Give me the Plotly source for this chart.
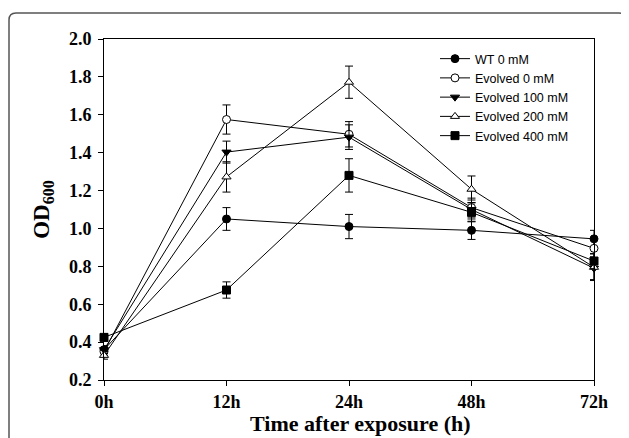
import plotly.graph_objects as go

time_labels = ["0h", "12h", "24h", "48h", "72h"]
series_names = ["WT 0 mM", "Evolved 0 mM", "Evolved 100 mM", "Evolved 200 mM", "Evolved 400 mM"]

wt_0 = [0.36, 1.05, 1.01, 0.99, 0.945]
wt_0_err = [0.02, 0.06, 0.064, 0.048, 0.045]
ev_0 = [0.35, 1.575, 1.497, 1.11, 0.895]
ev_0_err = [0.02, 0.077, 0.067, 0.05, 0.05]
ev_100 = [0.36, 1.403, 1.482, 1.10, 0.79]
ev_100_err = [0.02, 0.058, 0.065, 0.05, 0.06]
ev_200 = [0.33, 1.272, 1.772, 1.207, 0.795]
ev_200_err = [0.02, 0.08, 0.085, 0.07, 0.07]
ev_400 = [0.425, 0.675, 1.28, 1.085, 0.828]
ev_400_err = [0.02, 0.043, 0.088, 0.05, 0.04]

y_ticks = [0.2, 0.4, 0.6, 0.8, 1.0, 1.2, 1.4, 1.6, 1.8, 2.0]

values = [wt_0, ev_0, ev_100, ev_200, ev_400]
errors = [wt_0_err, ev_0_err, ev_100_err, ev_200_err, ev_400_err]
symbols = ["circle", "circle", "triangle-down", "triangle-up", "square"]
fills = ["black", "white", "black", "white", "black"]

x_pos = list(range(len(time_labels)))

fig = go.Figure()
for name, v, e, s, f in zip(series_names, values, errors, symbols, fills):
    fig.add_trace(go.Scatter(
        x=x_pos, y=v, name=name, mode="lines+markers",
        line=dict(color="black", width=1),
        marker=dict(symbol=s, size=8, color=f, line=dict(color="black", width=1)),
        error_y=dict(type="data", array=e, visible=True, color="black", thickness=1, width=4),
        cliponaxis=False,
    ))

serif = "Liberation Serif, Times New Roman, serif"
# page has an 8px body margin, so the figure is drawn 8px in from the window corner
W, H = 621, 430
L, R, T, B = 96, 35, 31, 58
pw, ph = W - L - R, H - T - B

def px(xp):
    return (xp - L) / pw

def py(yp):
    return (H - B - yp) / ph

x0, x1, y0, y1 = px(1), px(618), py(5), py(450)
rx, ry = 7 / pw, 7 / ph
path = (f"M {x0},{y1} L {x0},{y0 - ry} Q {x0},{y0} {x0 + rx},{y0} "
        f"L {x1 - rx},{y0} Q {x1},{y0} {x1},{y0 - ry} L {x1},{y1}")

fig.add_shape(type="path", path=path, xref="paper", yref="paper",
              line=dict(color="#555555", width=1.5), layer="below")

fig.add_annotation(
    text="Time after exposure (h)", xref="paper", yref="paper",
    x=px(352), y=-44 / ph, xanchor="center", yanchor="middle", showarrow=False,
    font=dict(family=serif, size=22, color="black", weight="bold"),
)

fig.update_layout(
    width=W, height=H,
    margin=dict(l=L, r=R, t=T, b=B),
    paper_bgcolor="white", plot_bgcolor="white",
    showlegend=True,
    legend=dict(x=px(427), y=py(36), xanchor="left", yanchor="top",
                font=dict(family="Liberation Sans, Arial, sans-serif", size=12.5, color="black"),
                bgcolor="rgba(0,0,0,0)", tracegroupgap=0, itemwidth=30),
    xaxis=dict(
        range=[0, 4], tickmode="array", tickvals=x_pos, ticktext=time_labels,
        showgrid=False, zeroline=False, showline=True, linecolor="black", linewidth=1,
        mirror=True, ticks="outside", ticklen=5, tickcolor="black",
        tickfont=dict(family=serif, size=18, color="black", weight="bold"),
    ),
    yaxis=dict(
        range=[0.2, 2.0], tickmode="array", tickvals=y_ticks,
        ticktext=[f"{t:.1f}" for t in y_ticks],
        showgrid=False, zeroline=False, showline=True, linecolor="black", linewidth=1,
        mirror=True, ticks="outside", ticklen=5, tickcolor="black", ticklabelstandoff=3,
        tickfont=dict(family=serif, size=18, color="black", weight="bold"),
        title=dict(text="OD<sub>600</sub>", standoff=12,
                   font=dict(family=serif, size=23, color="black", weight="bold")),
    ),
)

fig.write_html("out.html")
